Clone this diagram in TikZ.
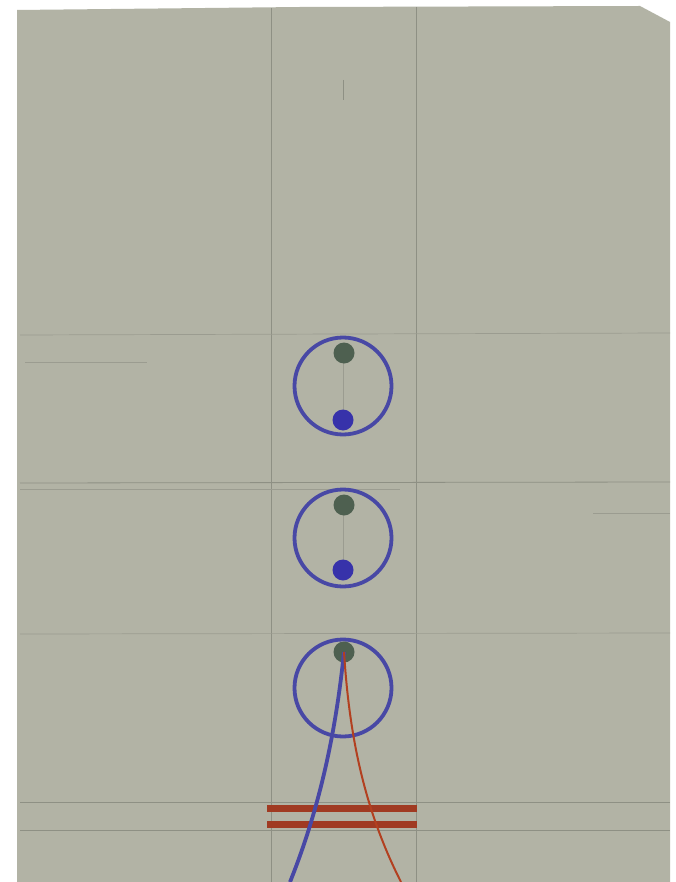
\documentclass[tikz,border=0pt]{standalone}
\usetikzlibrary{calc}
\definecolor{paper}{RGB}{178,179,165}
\definecolor{pencil}{RGB}{142,144,132}
\definecolor{ringblue}{RGB}{72,72,165}
\definecolor{dotblue}{RGB}{55,50,170}
\definecolor{dotgreen}{RGB}{78,96,80}
\definecolor{inkred}{RGB}{178,64,32}
\definecolor{barred}{RGB}{160,58,34}
\tikzset{
  ring/.style={draw=ringblue, line width=3.8pt, circle, minimum size=97pt, inner sep=0pt},
  gdot/.style={fill=dotgreen, circle, minimum size=21pt, inner sep=0pt},
  bdot/.style={fill=dotblue, circle, minimum size=21pt, inner sep=0pt},
  pline/.style={draw=pencil, line width=0.8pt},
  fline/.style={draw=pencil!65!paper, line width=0.7pt},
  bar/.style={draw=barred, line width=7pt},
}
\begin{document}
\begin{tikzpicture}[x=1pt,y=-1pt]
\useasboundingbox (0,0) rectangle (676,882);
\fill[white] (0,0) rectangle (676,882);
% paper
\fill[paper] (17,10) -- (300,7) -- (640,6) -- (670,22) -- (670,882) -- (17,882) -- cycle;
% pencil verticals
\draw[pline] (271,8) -- (271,882);
\draw[pline] (416,7) -- (416,882);
\draw[pline] (343,80) -- (343,100);
\draw[fline] (343,360) -- (343,415);
\draw[fline] (343,512) -- (343,565);
% pencil horizontals
\draw[fline] (20,335) -- (670,333);
\draw[fline] (25,362) -- (147,362);
\draw[pline] (20,483) -- (670,482);
\draw[fline] (20,489) -- (400,489);
\draw[fline] (593,513) -- (670,513);
\draw[fline] (20,634) -- (670,633);
\draw[pline] (20,802) -- (670,802);
\draw[pline] (20,830) -- (670,830);
% circles
\node[ring] (c1) at (343,386) {};
\node[gdot] (g1) at (344,353) {};
\node[bdot] (b1) at (343,420) {};
\node[ring] (c2) at (343,538) {};
\node[gdot] (g2) at (344,505) {};
\node[bdot] (b2) at (343,570) {};
\node[ring] (c3) at (343,688) {};
\node[gdot] (g3) at (344,652) {};
% bars
\coordinate (r1a) at (267,808); \coordinate (r1b) at (417,808);
\coordinate (r2a) at (267,824); \coordinate (r2b) at (417,824);
\draw[bar] (r1a) -- (r1b);
\draw[bar] (r2a) -- (r2b);
% wires
\coordinate (be) at (290,882);
\coordinate (re) at (401,882);
\draw[draw=ringblue, line width=3.8pt] (g3.center) .. controls (337,720) and (323,800) .. (be);
\draw[draw=inkred, line width=2pt] (g3.center) .. controls (349,730) and (362,805) .. (re);
\end{tikzpicture}
\end{document}
